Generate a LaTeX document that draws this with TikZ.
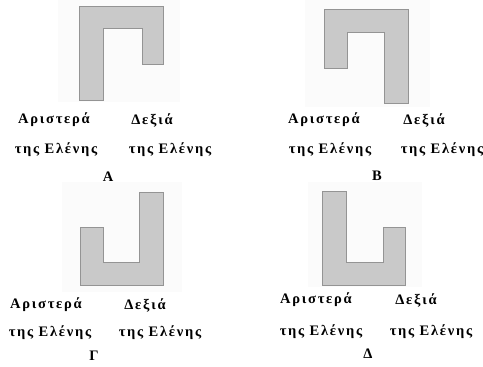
\documentclass[tikz,border=0pt]{standalone}
\usepackage{fontspec}
\setmainfont{Liberation Serif}
\newfontfamily\lblfont[LetterSpace=12]{Liberation Serif}
\begin{document}
\begin{tikzpicture}[x=1pt,y=-1pt,
  shapefill/.style={fill=black!21,draw=black!42,line width=0.8pt,line join=miter},
  bgbox/.style={fill=black!1.5,draw=none},
  lbl/.style={font=\lblfont\fontsize{14.5}{16}\selectfont\bfseries,inner sep=0pt,anchor=center},
  tag/.style={font=\fontsize{14.5}{16}\selectfont\bfseries,inner sep=0pt,anchor=center}]
\useasboundingbox (0,0) rectangle (483,367);
% faint backgrounds
\fill[bgbox] (58,0) rectangle (180,102);
\fill[bgbox] (305,0) rectangle (430,107);
\fill[bgbox] (62,182) rectangle (182,292);
\fill[bgbox] (308,182) rectangle (422,287);
% A
\path[shapefill] (79,6) -- (163,6) -- (163,64) -- (142,64) -- (142,28) -- (103,28) -- (103,100) -- (79,100) -- cycle;
% B
\path[shapefill] (324,9) -- (408,9) -- (408,103) -- (384,103) -- (384,32) -- (347,32) -- (347,68) -- (324,68) -- cycle;
% Gamma
\path[shapefill] (80,227) -- (103,227) -- (103,262) -- (139,262) -- (139,192) -- (163,192) -- (163,285) -- (80,285) -- cycle;
% Delta
\path[shapefill] (322,191) -- (346,191) -- (346,262) -- (383,262) -- (383,227) -- (405,227) -- (405,285) -- (322,285) -- cycle;
% labels A
\node[lbl] (aL1) at (54,120) {Αριστερά};
\node[lbl] (aR1) at (152,120) {Δεξιά};
\node[lbl] (aL2) at (56,150) {της Ελένης};
\node[lbl] (aR2) at (170,150) {της Ελένης};
\node[tag] (aT) at (108,177) {Α};
% labels B
\node[lbl] (bL1) at (324,120) {Αριστερά};
\node[lbl] (bR1) at (424,120) {Δεξιά};
\node[lbl] (bL2) at (330,150) {της Ελένης};
\node[lbl] (bR2) at (442,150) {της Ελένης};
\node[tag] (bT) at (377,176) {Β};
% labels Gamma
\node[lbl] (gL1) at (46,305) {Αριστερά};
\node[lbl] (gR1) at (145,305) {Δεξιά};
\node[lbl] (gL2) at (50,333) {της Ελένης};
\node[lbl] (gR2) at (160,333) {της Ελένης};
\node[tag] (gT) at (94,356) {Γ};
% labels Delta
\node[lbl] (dL1) at (316,300) {Αριστερά};
\node[lbl] (dR1) at (416,300) {Δεξιά};
\node[lbl] (dL2) at (321,332) {της Ελένης};
\node[lbl] (dR2) at (431,332) {της Ελένης};
\node[tag] (dT) at (368,354) {Δ};
\end{tikzpicture}
\end{document}
